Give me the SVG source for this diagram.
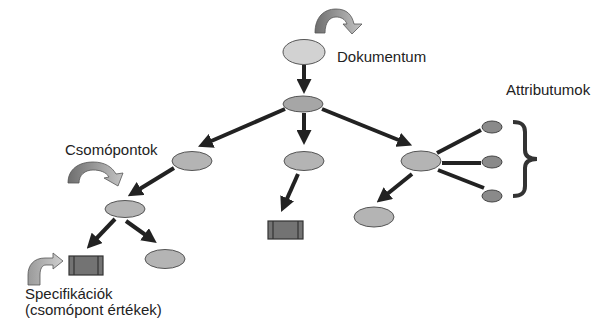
<svg xmlns="http://www.w3.org/2000/svg" width="601" height="321" viewBox="0 0 601 321">
<defs>
<style>
.lbl{font-family:"Liberation Sans",Arial,sans-serif;font-size:15px;fill:#222}
.n1{fill:#d2d2d2;stroke:#555;stroke-width:1}
.n2{fill:#a6a6a6;stroke:#555;stroke-width:1}
.n3{fill:#b4b4b4;stroke:#555;stroke-width:1}
.na{fill:#8a8a8a;stroke:#444;stroke-width:1}
.spec{fill:#737373;stroke:#333;stroke-width:1.2}
.edge{stroke:#222;stroke-width:4;fill:none}
.arr{marker-end:url(#ah)}
.curl{stroke:#555;stroke-width:0.8}
</style>
<marker id="ah" viewBox="0 0 10 10" refX="2" refY="5" markerUnits="userSpaceOnUse" markerWidth="15" markerHeight="15" orient="auto">
<path d="M0,0 L10,5 L0,10 Z" fill="#222"/>
</marker>
<linearGradient id="gA" x1="0" y1="0" x2="1" y2="0">
<stop offset="0" stop-color="#6e6e6e"/>
<stop offset="1" stop-color="#c4c4c4"/>
</linearGradient>
<linearGradient id="gB" x1="0" y1="0" x2="1" y2="0">
<stop offset="0" stop-color="#9a9a9a"/>
<stop offset="1" stop-color="#cfcfcf"/>
</linearGradient>
</defs>
<rect width="601" height="321" fill="#fff"/>
<g id="connectors">
<line class="edge arr" x1="304" y1="65" x2="304" y2="82"/>
<line class="edge arr" x1="285" y1="109" x2="209" y2="142"/>
<line class="edge arr" x1="304" y1="113" x2="304" y2="133"/>
<line class="edge arr" x1="322" y1="109" x2="401" y2="141"/>
<line class="edge arr" x1="298" y1="174" x2="286" y2="201"/>
<line class="edge arr" x1="174" y1="168" x2="138" y2="190"/>
<line class="edge arr" x1="115" y1="219" x2="95" y2="240"/>
<line class="edge arr" x1="126" y1="221" x2="147" y2="236"/>
<line class="edge arr" x1="412" y1="174" x2="386" y2="195"/>
<line class="edge" x1="437" y1="153" x2="481" y2="130"/>
<line class="edge" x1="442" y1="163" x2="481" y2="163"/>
<line class="edge" x1="438" y1="170" x2="484" y2="188"/>
</g>
<g id="dokumentum">
<path class="curl" fill="url(#gA)" d="M315,33 C315,17 324,9 336,9 C347,9 352,15 354,24 L362,24 L352,34 L343,24 L347,24 C345,19 341,17 336,17 C330,17 325,22 325,33 Z"/>
<ellipse class="n1" cx="304" cy="52" rx="21" ry="12.5"/>
<text class="lbl" x="337" y="62">Dokumentum</text>
</g>
<g id="root"><ellipse class="n2" cx="303" cy="104" rx="20" ry="8"/></g>
<g id="csomopontok">
<text class="lbl" x="65" y="155">Csomópontok</text>
<path class="curl" fill="url(#gA)" d="M68,183 C68,169 79,162 93,162 C105,162 112,167 116,174 L123,173 L118,186 L104,178 L109,177 C106,172 100,170 93,170 C85,170 79,175 79,183 Z"/>
</g>
<g id="nodeL"><ellipse class="n3" cx="192" cy="161" rx="20" ry="9.5"/></g>
<g id="nodeM"><ellipse class="n3" cx="304" cy="161" rx="20" ry="9.5"/></g>
<g id="nodeR"><ellipse class="n3" cx="421" cy="161" rx="20" ry="10"/></g>
<g id="nodeLL"><ellipse class="n3" cx="125" cy="209" rx="20" ry="8.5"/></g>
<g id="nodeLLR"><ellipse class="n3" cx="165" cy="259" rx="20" ry="9.5"/></g>
<g id="nodeRL"><ellipse class="n3" cx="374" cy="217" rx="20" ry="10"/></g>
<g id="specM">
<rect class="spec" x="268" y="221" width="35" height="18"/>
<line stroke="#333" stroke-width="1.2" x1="273" y1="221" x2="273" y2="239"/>
<line stroke="#333" stroke-width="1.2" x1="298" y1="221" x2="298" y2="239"/>
</g>
<g id="specL">
<rect class="spec" x="69" y="256" width="34" height="19"/>
<line stroke="#333" stroke-width="1.2" x1="74" y1="256" x2="74" y2="275"/>
<line stroke="#333" stroke-width="1.2" x1="98" y1="256" x2="98" y2="275"/>
<path class="curl" fill="url(#gB)" d="M28,285 L28,275 C28,265 34,258 45,258 L53,258 L53,253 L63,261 L53,269 L53,265 L46,265 C42,265 40,269 40,275 L40,285 Z"/>
<text class="lbl" x="25" y="299">Specifikációk</text>
<text class="lbl" x="25" y="315">(csomópont értékek)</text>
</g>
<g id="attributumok">
<text class="lbl" x="506" y="95">Attributumok</text>
<ellipse class="na" cx="492" cy="127" rx="10" ry="6"/>
<ellipse class="na" cx="492" cy="162" rx="10" ry="6"/>
<ellipse class="na" cx="492" cy="196" rx="10" ry="6"/>
<path d="M513,122 C522,122 525,125 525,132 L525,150 C525,156 529,159 537,159 C529,159 525,162 525,168 L525,186 C525,193 522,196 513,196" fill="none" stroke="#333" stroke-width="4"/>
</g>
</svg>
